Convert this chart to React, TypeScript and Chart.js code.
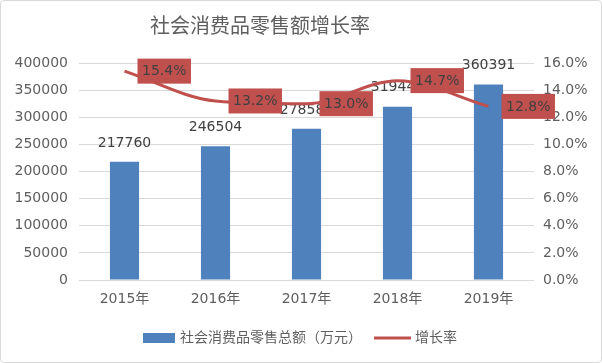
import React, { useEffect, useRef } from "react";
import { Chart, registerables } from "chart.js";

Chart.register(...registerables);

const categories = ["2015年", "2016年", "2017年", "2018年", "2019年"];
const salesValues = [217760, 246504, 278588, 319446, 360391];
const growthValues = [15.4, 13.2, 13.0, 14.7, 12.8];
const titleText = "社会消费品零售额增长率";
const barLegend = "社会消费品零售总额（万元）";
const lineLegend = "增长率";

const FONT = '"DejaVu Sans", "Noto Sans CJK SC", sans-serif';
const BAR_COLOR = "#4F81BD";
const LINE_COLOR = "#C0504D";
const TEXT_COLOR = "#5f5f5f";
const LABEL_COLOR = "#404040";

const overlayPlugin = {
  id: "overlay",
  afterDatasetDraw(chart: any, args: any) {
    if (args.index !== 0) return;
    const ctx = chart.ctx;
    const meta = chart.getDatasetMeta(0);
    ctx.save();
    ctx.font = `14px ${FONT}`;
    ctx.fillStyle = LABEL_COLOR;
    ctx.textAlign = "center";
    ctx.textBaseline = "middle";
    meta.data.forEach((bar: any, i: number) => {
      ctx.fillText(String(salesValues[i]), bar.x, bar.y - 19);
    });
    ctx.restore();
  },
  afterDatasetsDraw(chart: any) {
    const ctx = chart.ctx;
    const meta = chart.getDatasetMeta(1);
    ctx.save();
    ctx.font = `14px ${FONT}`;
    ctx.textAlign = "left";
    ctx.textBaseline = "middle";
    meta.data.forEach((pt: any, i: number) => {
      const txt = growthValues[i].toFixed(1) + "%";
      const w = ctx.measureText(txt).width + 9;
      const h = 25;
      const x0 = pt.x + 13;
      const y0 = pt.y - h / 2;
      ctx.fillStyle = LINE_COLOR;
      ctx.fillRect(x0, y0, w, h);
      ctx.fillStyle = LABEL_COLOR;
      ctx.fillText(txt, x0 + 4.5, pt.y + 0.5);
    });
    ctx.restore();
  },
  afterDraw(chart: any) {
    const ctx = chart.ctx;
    ctx.save();
    // title
    ctx.font = `20px ${FONT}`;
    ctx.fillStyle = TEXT_COLOR;
    ctx.textAlign = "center";
    ctx.textBaseline = "middle";
    ctx.fillText(titleText, 260, 28);
    // legend
    ctx.font = `14px ${FONT}`;
    ctx.textAlign = "left";
    const y = 338;
    const w1 = ctx.measureText(barLegend).width;
    const w2 = ctx.measureText(lineLegend).width;
    const total = 32 + 5 + w1 + 12 + 37 + 4 + w2;
    let x = 300 - total / 2;
    ctx.fillStyle = BAR_COLOR;
    ctx.fillRect(x, y - 5, 32, 10);
    x += 37;
    ctx.fillStyle = TEXT_COLOR;
    ctx.fillText(barLegend, x, y);
    x += w1 + 12;
    ctx.strokeStyle = LINE_COLOR;
    ctx.lineWidth = 3;
    ctx.beginPath();
    ctx.moveTo(x, y);
    ctx.lineTo(x + 37, y);
    ctx.stroke();
    x += 41;
    ctx.fillText(lineLegend, x, y);
    ctx.restore();
  },
};

export default function App() {
  const ref = useRef<HTMLCanvasElement>(null);
  useEffect(() => {
    document.body.style.margin = "0";
    const chart = new Chart(ref.current!, {
      type: "bar",
      data: {
        labels: categories,
        datasets: [
          {
            type: "bar",
            label: barLegend,
            data: salesValues,
            backgroundColor: BAR_COLOR,
            yAxisID: "y",
            order: 1,
            categoryPercentage: 1,
            barPercentage: 0.32,
          } as any,
          {
            type: "line",
            label: lineLegend,
            data: growthValues,
            borderColor: LINE_COLOR,
            backgroundColor: LINE_COLOR,
            borderWidth: 3,
            pointRadius: 0,
            cubicInterpolationMode: "monotone",
            yAxisID: "y1",
            order: 0,
          } as any,
        ],
      },
      options: {
        animation: false,
        responsive: false,
        layout: { padding: { top: 63, bottom: 0, left: 0, right: 0 } },
        plugins: {
          legend: { display: false },
          title: { display: false },
          tooltip: { enabled: false },
        },
        scales: {
          x: {
            grid: { display: false, drawTicks: false },
            border: { display: false },
            ticks: { color: TEXT_COLOR, font: { family: FONT, size: 14 }, padding: 11 },
            afterFit(scale: any) {
              scale.height = 83;
            },
          },
          y: {
            position: "left",
            min: 0,
            max: 400000,
            ticks: {
              stepSize: 50000,
              color: TEXT_COLOR,
              font: { family: FONT, size: 14 },
              padding: 11,
              callback: (v: any) => String(v),
            },
            grid: { color: "#d9d9d9", drawTicks: false, lineWidth: 1 },
            border: { display: false },
            afterFit(scale: any) {
              scale.width = 79;
            },
          },
          y1: {
            position: "right",
            min: 0,
            max: 16,
            ticks: {
              stepSize: 2,
              color: TEXT_COLOR,
              font: { family: FONT, size: 14 },
              padding: 9,
              callback: (v: any) => Number(v).toFixed(1) + "%",
            },
            grid: { display: false, drawTicks: false },
            border: { display: false },
            afterFit(scale: any) {
              scale.width = 68;
            },
          },
        },
      } as any,
      plugins: [overlayPlugin],
    });
    return () => chart.destroy();
  }, []);
  return (
    <div
      style={{
        position: "absolute",
        left: 0,
        top: 0,
        width: 602,
        height: 363,
        background: "#fff",
      }}
    >
      <canvas ref={ref} width={602} height={363} style={{ display: "block" }} />
      <div
        style={{
          position: "absolute",
          left: 0,
          top: 0,
          width: 600,
          height: 361,
          border: "1px solid #d9d9d9",
          borderRadius: 4,
          pointerEvents: "none",
        }}
      />
    </div>
  );
}
